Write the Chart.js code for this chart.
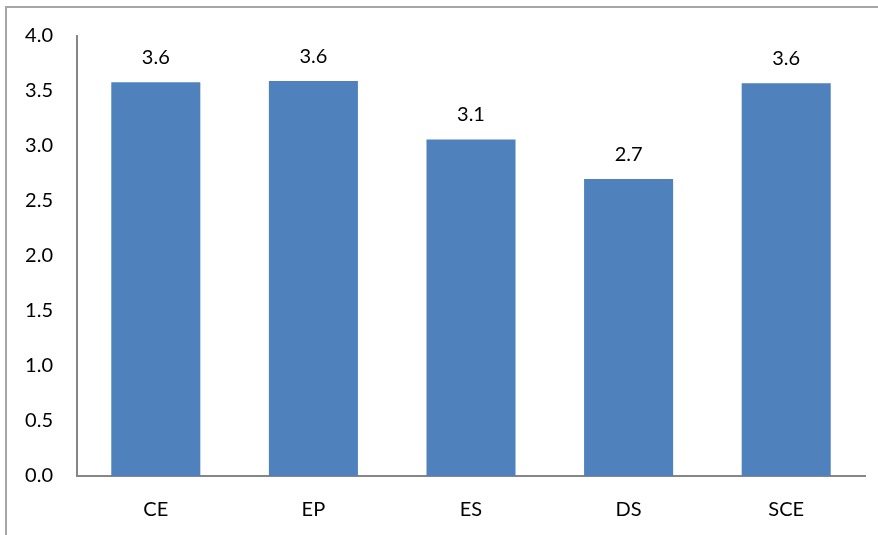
<!DOCTYPE html>
<html>
<head>
<meta charset="utf-8">
<script src="https://cdn.jsdelivr.net/npm/chart.js@4"></script>
<style>
    html, body { margin: 0; padding: 0; background: #fff; overflow: hidden; }
    #wrap { position: relative; width: 878px; height: 535px; }
    #frame { position: absolute; left: 5px; top: 6px; width: 900px; height: 600px;
             border: 2px solid #a6a6a6; box-sizing: border-box; }
    #chart { position: absolute; left: 0; top: 0; }
</style>
</head>
<body>
<div id="wrap">
    <div id="frame"></div>
    <canvas id="chart" width="878" height="535"></canvas>
</div>
<script>
// chart data
const categories = ['CE', 'EP', 'ES', 'DS', 'SCE'];
const values = [3.58, 3.59, 3.06, 2.70, 3.57];
const valueLabels = ['3.6', '3.6', '3.1', '2.7', '3.6'];

const font = { family: 'Lato, "Open Sans", sans-serif', size: 20 };

// writes the rounded value above each bar
const barLabels = {
    id: 'barLabels',
    afterDatasetsDraw(chart) {
        const ctx = chart.ctx;
        const meta = chart.getDatasetMeta(0);
        ctx.save();
        ctx.font = `${font.size}px ${font.family}`;
        ctx.fillStyle = '#000';
        ctx.textAlign = 'center';
        ctx.textBaseline = 'alphabetic';
        meta.data.forEach((bar, i) => {
            ctx.fillText(valueLabels[i], bar.x, bar.y - 18);
        });
        ctx.restore();
    }
};

new Chart(document.getElementById('chart'), {
    type: 'bar',
    data: {
        labels: categories,
        datasets: [{
            data: values,
            backgroundColor: '#4f81bd',
            categoryPercentage: 1,
            barPercentage: 0.565
        }]
    },
    options: {
        responsive: false,
        animation: false,
        layout: { padding: { top: 35, right: 13, left: 0, bottom: 0 } },
        plugins: { legend: { display: false }, tooltip: { enabled: false } },
        scales: {
            x: {
                grid: { display: false, drawTicks: false },
                border: { color: '#868686', width: 2 },
                ticks: { color: '#000', font: font, padding: 22 },
                afterFit(scale) { scale.height = 59; }
            },
            y: {
                min: 0,
                max: 4,
                grid: { display: false, drawTicks: false },
                border: { color: '#868686', width: 2 },
                ticks: {
                    stepSize: 0.5,
                    color: '#000',
                    font: font,
                    padding: 24,
                    callback: (v) => v.toFixed(1)
                },
                afterFit(scale) { scale.width = 77; }
            }
        }
    },
    plugins: [barLabels]
});
</script>
</body>
</html>
